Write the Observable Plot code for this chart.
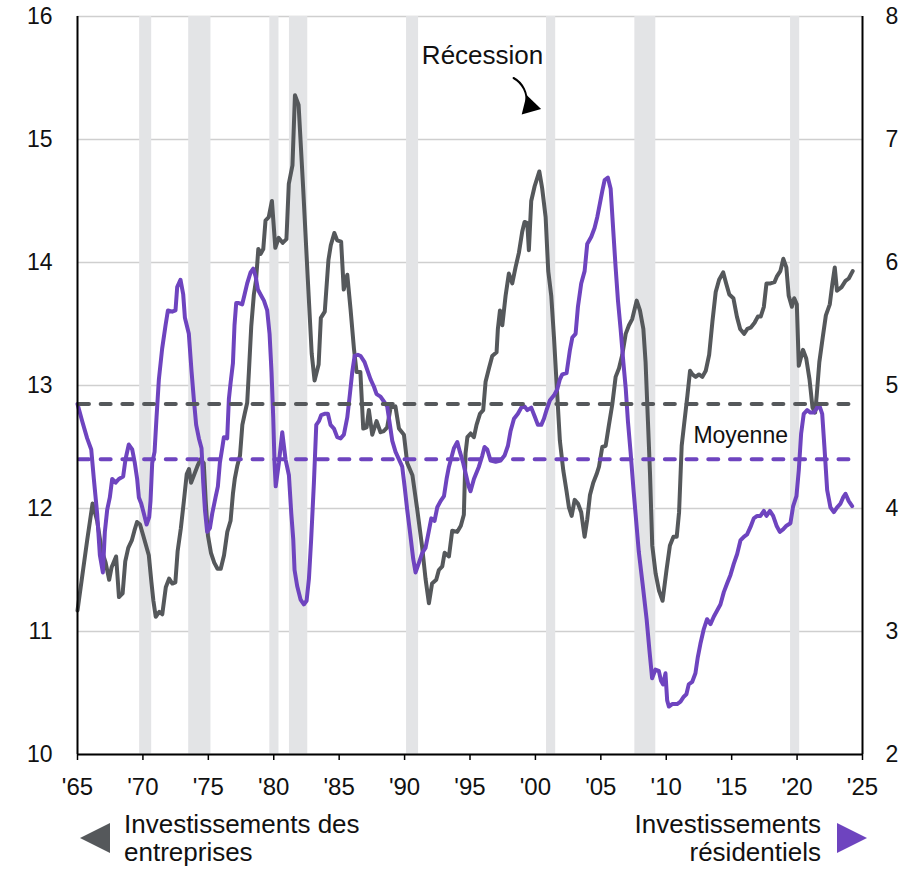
<!DOCTYPE html>
<html>
<head>
<meta charset="utf-8">
<script src="https://cdn.jsdelivr.net/npm/d3@7"></script>
<script src="https://cdn.jsdelivr.net/npm/@observablehq/plot@0.6"></script>
<style>
  html, body { margin: 0; padding: 0; background: #fff; }
  body { width: 920px; height: 869px; overflow: hidden; font-family: "Liberation Sans", Arial, sans-serif; }
  #legend { position: relative; width: 920px; height: 69px; font-size: 26px; line-height: 28px; color: #111; }
  #legend .txt { position: absolute; top: 10px; }
  #legend svg { position: absolute; }
</style>
</head>
<body>
<div id="chart"></div>
<div id="legend">
  <svg style="left:78px;top:21px" width="34" height="34"><polygon points="2,17 32,2 32,32" fill="#55585b"/></svg>
  <div class="txt" style="left:124px;">Investissements des<br>entreprises</div>
  <div class="txt" style="right:99px;text-align:right;">Investissements<br>résidentiels</div>
  <svg style="left:835px;top:21px" width="34" height="34"><polygon points="2,2 32,17 2,32" fill="#6e44bf"/></svg>
</div>
<script>
// Business investment (% of GDP, left axis)
const bizYear = [1965.0,1965.36,1965.75,1966.15,1966.5,1966.85,1967.15,1967.42,1967.6,1967.95,1968.17,1968.45,1968.65,1968.88,1969.15,1969.35,1969.55,1969.78,1970.05,1970.45,1970.65,1970.8,1970.98,1971.25,1971.48,1971.75,1972.0,1972.25,1972.48,1972.65,1972.9,1973.13,1973.35,1973.52,1973.68,1973.9,1974.15,1974.4,1974.65,1974.8,1974.97,1975.2,1975.45,1975.7,1975.95,1976.2,1976.45,1976.7,1976.88,1977.02,1977.22,1977.42,1977.6,1977.78,1977.97,1978.1,1978.28,1978.48,1978.65,1978.82,1979.0,1979.2,1979.37,1979.62,1979.86,1980.12,1980.38,1980.68,1980.97,1981.15,1981.43,1981.62,1981.9,1982.25,1982.6,1982.9,1983.12,1983.43,1983.6,1983.9,1984.18,1984.36,1984.63,1984.85,1985.15,1985.35,1985.62,1985.87,1986.13,1986.33,1986.62,1986.84,1987.1,1987.27,1987.53,1987.86,1988.16,1988.42,1988.67,1988.93,1989.3,1989.57,1989.95,1990.2,1990.6,1990.97,1991.35,1991.6,1991.86,1992.1,1992.42,1992.62,1992.88,1993.06,1993.39,1993.64,1994.03,1994.3,1994.53,1994.66,1994.8,1995.05,1995.3,1995.5,1995.76,1996.01,1996.19,1996.45,1996.7,1997.03,1997.13,1997.29,1997.47,1997.72,1997.97,1998.23,1998.48,1998.74,1998.99,1999.17,1999.38,1999.5,1999.68,1999.94,2000.3,2000.52,2000.78,2000.98,2001.21,2001.42,2001.67,2001.87,2002.13,2002.38,2002.56,2002.77,2003.0,2003.25,2003.5,2003.76,2003.96,2004.17,2004.42,2004.68,2004.86,2005.11,2005.37,2005.62,2005.88,2006.13,2006.39,2006.64,2006.9,2007.15,2007.4,2007.74,2007.99,2008.25,2008.42,2008.6,2008.76,2008.93,2009.19,2009.45,2009.72,2010.02,2010.28,2010.55,2010.8,2010.98,2011.18,2011.36,2011.62,2011.82,2012.0,2012.25,2012.5,2012.76,2013.02,2013.28,2013.53,2013.78,2014.04,2014.35,2014.58,2014.82,2015.13,2015.4,2015.65,2015.95,2016.2,2016.45,2016.75,2017.0,2017.22,2017.46,2017.66,2017.97,2018.27,2018.47,2018.72,2018.95,2019.18,2019.36,2019.6,2019.78,2019.98,2020.13,2020.45,2020.7,2020.95,2021.18,2021.38,2021.5,2021.7,2021.96,2022.2,2022.5,2022.7,2022.88,2023.05,2023.4,2023.7,2023.95,2024.25];
const bizValue = [11.17,11.45,11.75,12.04,11.9,11.66,11.56,11.42,11.52,11.61,11.28,11.31,11.57,11.68,11.74,11.82,11.89,11.87,11.77,11.62,11.4,11.25,11.12,11.16,11.14,11.36,11.43,11.39,11.4,11.65,11.84,12.06,12.28,12.32,12.21,12.27,12.34,12.4,12.37,12.06,11.78,11.64,11.56,11.51,11.51,11.62,11.81,11.9,12.12,12.24,12.35,12.43,12.68,12.77,12.86,13.11,13.48,13.74,13.86,14.11,14.07,14.11,14.34,14.37,14.5,14.12,14.2,14.16,14.19,14.64,14.79,15.36,15.28,14.6,13.87,13.26,13.04,13.17,13.55,13.6,14.02,14.14,14.24,14.18,14.17,13.78,13.9,13.62,13.3,13.11,13.11,12.65,12.66,12.8,12.6,12.71,12.62,12.63,12.66,12.82,12.83,12.65,12.6,12.37,12.27,11.99,11.68,11.43,11.23,11.39,11.42,11.5,11.53,11.64,11.61,11.82,11.81,11.86,11.95,12.45,12.58,12.61,12.58,12.68,12.77,12.8,13.03,13.14,13.24,13.27,13.46,13.61,13.49,13.73,13.91,13.83,13.96,14.08,14.25,14.33,14.32,14.1,14.5,14.62,14.74,14.6,14.37,13.93,13.73,13.39,12.92,12.55,12.31,12.14,12.01,11.94,12.07,12.04,11.97,11.77,11.91,12.11,12.21,12.28,12.34,12.5,12.51,12.68,12.85,13.07,13.14,13.25,13.42,13.49,13.54,13.69,13.61,13.46,13.19,12.71,12.28,11.7,11.47,11.33,11.25,11.5,11.7,11.77,11.77,11.97,12.51,12.68,12.92,13.12,13.09,13.07,13.09,13.07,13.12,13.25,13.52,13.76,13.86,13.92,13.83,13.74,13.71,13.56,13.46,13.42,13.46,13.47,13.51,13.56,13.56,13.64,13.83,13.83,13.84,13.89,13.93,14.03,13.96,13.73,13.64,13.71,13.66,13.16,13.29,13.22,13.05,12.82,12.78,12.92,13.19,13.39,13.57,13.66,13.83,13.96,13.77,13.8,13.85,13.87,13.93];

// Residential investment (% of GDP, right axis)
const resYear = [1965.0,1965.36,1965.74,1966.05,1966.25,1966.5,1966.71,1966.94,1967.09,1967.27,1967.47,1967.65,1967.91,1968.16,1968.49,1968.67,1968.92,1969.18,1969.38,1969.56,1969.69,1969.87,1970.07,1970.28,1970.48,1970.58,1970.71,1970.89,1971.04,1971.22,1971.47,1971.73,1971.91,1972.24,1972.49,1972.62,1972.87,1973.08,1973.21,1973.51,1973.72,1973.89,1974.07,1974.28,1974.48,1974.61,1974.74,1974.91,1975.12,1975.3,1975.55,1975.73,1975.88,1976.06,1976.19,1976.44,1976.57,1976.7,1976.88,1977.0,1977.13,1977.33,1977.59,1977.77,1977.97,1978.23,1978.43,1978.61,1978.79,1978.99,1979.25,1979.5,1979.68,1979.83,1979.96,1980.06,1980.15,1980.39,1980.65,1980.9,1981.16,1981.34,1981.49,1981.59,1981.79,1982.05,1982.3,1982.51,1982.69,1982.86,1983.07,1983.25,1983.45,1983.63,1983.88,1984.14,1984.34,1984.6,1984.85,1985.11,1985.36,1985.62,1985.82,1986.0,1986.18,1986.43,1986.64,1986.94,1987.2,1987.4,1987.66,1987.86,1988.16,1988.42,1988.67,1988.88,1989.06,1989.31,1989.57,1989.82,1990.0,1990.2,1990.41,1990.66,1990.84,1991.1,1991.35,1991.6,1991.86,1992.04,1992.29,1992.5,1992.75,1993.01,1993.21,1993.39,1993.57,1993.77,1994.03,1994.23,1994.48,1994.7,1994.9,1995.04,1995.3,1995.68,1995.94,1996.11,1996.32,1996.57,1996.96,1997.34,1997.64,1997.9,1998.1,1998.36,1998.66,1998.92,1999.17,1999.38,1999.68,1999.94,2000.19,2000.45,2000.65,2000.85,2001.11,2001.42,2001.67,2001.87,2002.05,2002.38,2002.64,2002.82,2003.07,2003.25,2003.5,2003.76,2003.96,2004.27,2004.52,2004.73,2004.93,2005.11,2005.29,2005.54,2005.75,2005.95,2006.13,2006.31,2006.51,2006.72,2006.9,2007.07,2007.28,2007.5,2007.9,2008.2,2008.5,2008.72,2008.92,2009.17,2009.43,2009.6,2009.76,2009.94,2010.07,2010.2,2010.45,2010.83,2011.09,2011.34,2011.54,2011.72,2011.98,2012.23,2012.41,2012.61,2012.87,2013.12,2013.38,2013.63,2013.89,2014.14,2014.4,2014.65,2014.91,2015.16,2015.42,2015.67,2015.93,2016.18,2016.44,2016.69,2016.95,2017.2,2017.46,2017.66,2017.92,2018.17,2018.43,2018.68,2018.93,2019.19,2019.49,2019.7,2019.95,2020.13,2020.31,2020.51,2020.77,2021.02,2021.28,2021.48,2021.66,2021.92,2022.09,2022.3,2022.55,2022.81,2023.06,2023.32,2023.52,2023.7,2023.95,2024.21];
const resValue = [4.85,4.71,4.57,4.48,4.24,3.96,3.62,3.48,3.81,3.99,4.09,4.24,4.21,4.24,4.26,4.40,4.52,4.48,4.37,4.24,4.09,4.04,3.96,3.87,3.93,4.06,4.37,4.46,4.74,5.05,5.30,5.49,5.61,5.60,5.61,5.80,5.86,5.74,5.55,5.42,5.11,4.89,4.68,4.57,4.49,4.21,3.99,3.81,3.84,3.96,4.09,4.18,4.37,4.49,4.58,4.57,4.89,5.02,5.18,5.49,5.67,5.67,5.66,5.74,5.83,5.92,5.95,5.89,5.78,5.74,5.69,5.61,5.42,5.11,4.74,4.37,4.18,4.37,4.62,4.40,4.27,3.96,3.75,3.50,3.37,3.26,3.22,3.25,3.43,3.75,4.21,4.68,4.71,4.76,4.77,4.77,4.68,4.65,4.58,4.57,4.60,4.74,4.93,5.11,5.24,5.25,5.24,5.19,5.11,5.05,4.99,4.93,4.91,4.87,4.83,4.68,4.55,4.46,4.40,4.34,4.18,3.99,3.81,3.59,3.48,3.56,3.64,3.68,3.82,3.92,3.90,4.01,4.06,4.10,4.24,4.34,4.41,4.49,4.54,4.46,4.37,4.27,4.18,4.14,4.24,4.34,4.43,4.50,4.48,4.39,4.38,4.39,4.43,4.51,4.63,4.73,4.77,4.82,4.83,4.80,4.82,4.75,4.68,4.68,4.73,4.80,4.88,4.92,4.97,5.05,5.09,5.10,5.29,5.39,5.42,5.64,5.83,5.93,6.15,6.21,6.28,6.37,6.48,6.58,6.67,6.69,6.60,6.26,5.96,5.69,5.46,5.19,4.98,4.71,4.45,4.15,3.65,3.38,3.10,2.84,2.62,2.69,2.68,2.60,2.57,2.66,2.44,2.39,2.41,2.41,2.43,2.47,2.49,2.57,2.59,2.66,2.79,2.90,3.02,3.10,3.06,3.12,3.17,3.22,3.32,3.39,3.46,3.55,3.63,3.74,3.77,3.79,3.85,3.92,3.94,3.94,3.98,3.94,3.98,3.94,3.86,3.81,3.83,3.86,3.88,4.02,4.10,4.31,4.61,4.77,4.80,4.78,4.78,4.81,4.85,4.77,4.50,4.15,4.01,3.97,4.01,4.04,4.09,4.12,4.06,4.02];

// Long-run averages ("Moyenne")
const bizMean = 12.85;
const resMean = 4.40;

// Recessions (start, end)
const recStart = [1969.75, 1973.5, 1979.7, 1981.2, 1990.15, 2000.85, 2007.6, 2019.5];
const recEnd   = [1970.67, 1975.2, 1980.4, 1982.6, 1991.07, 2001.55, 2009.2, 2020.2];

// Axes
const xTicks = [1965,1970,1975,1980,1985,1990,1995,2000,2005,2010,2015,2020,2025];
const xTickLabels = ["'65","'70","'75","'80","'85","'90","'95","'00","'05","'10","'15","'20","'25"];
const leftTicks = [10,11,12,13,14,15,16];
const rightTicks = [2,3,4,5,6,7,8];
const axisOffset = 8; // right axis value = left axis value - 8

const GREY = "#55585b";
const PURPLE = "#6e44bf";

const biz = bizYear.map((x, i) => ({x, v: bizValue[i]}));
const res = resYear.map((x, i) => ({x, v: resValue[i]}));
const rec = recStart.map((s, i) => ({s, e: recEnd[i]}));
const xEnd = bizYear[bizYear.length - 1];

const chart = Plot.plot({
  width: 920,
  height: 800,
  marginLeft: 77,
  marginRight: 58,
  marginTop: 16,
  marginBottom: 46,
  style: {fontFamily: '"Liberation Sans", Arial, sans-serif', fontSize: "24px", background: "white", color: "#111", overflow: "visible"},
  x: {domain: [1965, 2025]},
  y: {domain: [10, 16]},
  marks: [
    Plot.gridY(leftTicks, {stroke: "#cfcfcf", strokeOpacity: 1, strokeWidth: 1.5}),
    Plot.rect(rec, {x1: "s", x2: "e", y1: 10, y2: 16, fill: "#e3e4e6"}),
    Plot.line(biz, {x: "x", y: "v", stroke: GREY, strokeWidth: 4, strokeLinejoin: "round"}),
    Plot.line(res, {x: "x", y: d => d.v + axisOffset, stroke: PURPLE, strokeWidth: 4, strokeLinejoin: "round"}),
    Plot.ruleY([bizMean], {x1: 1965.15, x2: xEnd, stroke: GREY, strokeWidth: 4, strokeDasharray: "10,11.7", strokeLinecap: "round"}),
    Plot.ruleY([resMean + axisOffset], {x1: 1965.15, x2: xEnd, stroke: PURPLE, strokeWidth: 4, strokeDasharray: "10,11.7", strokeLinecap: "round"}),
    Plot.ruleX([1965, 2025], {y1: 10, y2: 16, stroke: "#000", strokeWidth: 2}),
    Plot.ruleY([10], {stroke: "#000", strokeWidth: 2}),
    Plot.axisY(leftTicks, {anchor: "left", tickSize: 0, tickPadding: 25, fontSize: 23, tickFormat: d => String(d), label: null}),
    Plot.axisY(leftTicks, {anchor: "right", tickSize: 0, tickPadding: 23, fontSize: 23, tickFormat: d => String(rightTicks[leftTicks.indexOf(d)]), label: null}),
    Plot.axisX(xTicks, {anchor: "bottom", tickSize: 6, tickPadding: 17, strokeWidth: 1.5, stroke: "#000", fontSize: 24, tickFormat: d => xTickLabels[xTicks.indexOf(d)], label: null}),
    Plot.text(["Récession"], {x: 1995.96, y: 15.68, fontSize: 26, fill: "#111"}),
    Plot.text(["Moyenne"], {x: 2015.69, y: 12.59, fontSize: 23, fill: "#111"}),
    Plot.arrow([{x1: 1998.33, y1: 15.5, x2: 1999.3, y2: 15.29}], {x1: "x1", y1: "y1", x2: "x2", y2: "y2", bend: 35, headLength: 0, stroke: "#000", strokeWidth: 2}),
    Plot.dot([{x: 1999.57, y: 15.271}], {x: "x", y: "y", symbol: "triangle", r: 7.5, fill: "#000", stroke: "none", rotate: 104})
  ]
});
document.getElementById("chart").appendChild(chart);
</script>
</body>
</html>
